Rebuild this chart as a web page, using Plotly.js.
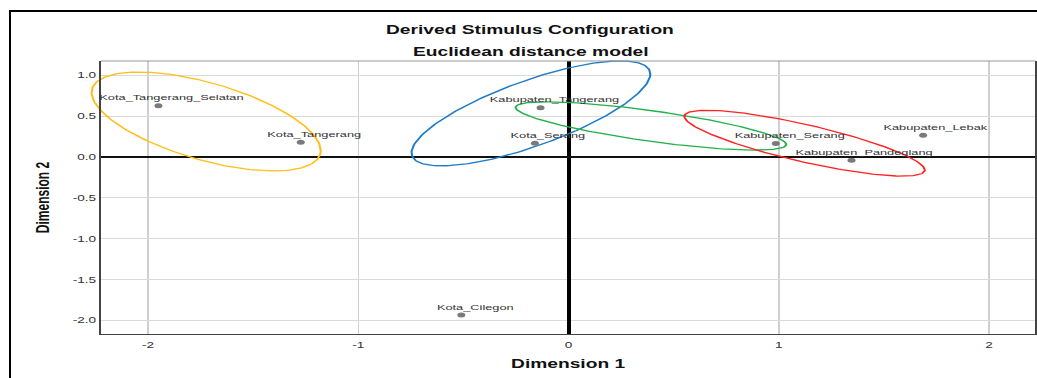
<!DOCTYPE html>
<html>
<head>
<meta charset="utf-8">
<script src="https://cdn.plot.ly/plotly-3.0.1.min.js"></script>
<style>
html,body{margin:0;padding:0;overflow:hidden;background:#fff;width:1037px;height:378px}
#wrap{position:absolute;left:0;top:0;width:648px;height:378px;transform:scaleX(1.6003);transform-origin:0 0}
#frame{position:absolute;left:9px;top:10px;width:1100px;height:420px;border-left:2px solid #000;border-top:2px solid #000;pointer-events:none;z-index:5}
</style>
</head>
<body>
<div id="wrap"><div id="chart" style="width:648px;height:378px"></div></div>
<div id="frame"></div>
<script>
// Stimulus coordinates (Dimension 1, Dimension 2)
const categories = ['Kota_Tangerang_Selatan','Kota_Tangerang','Kabupaten_Tangerang','Kota_Serang','Kabupaten_Serang','Kabupaten_Pandeglang','Kabupaten_Lebak','Kota_Cilegon'];
const dim1 = [-1.951, -1.274, -0.133, -0.160, 0.986, 1.346, 1.687, -0.510];
const dim2 = [0.628, 0.181, 0.604, 0.169, 0.164, -0.039, 0.267, -1.934];

// Cluster ellipses: centre, half-extent in x and y, correlation (tilt)
const ellipseColors = ['#FFBF1A', '#1F7BC8', '#22B04B', '#FF2222'];
const ellipseCx = [-1.724, -0.179, 0.392, 1.123];
const ellipseCy = [0.435, 0.534, 0.380, 0.169];
const ellipseSx = [0.545, 0.568, 0.644, 0.572];
const ellipseSy = [0.605, 0.642, 0.296, 0.403];
const ellipseRho = [-0.588, 0.749, -0.768, -0.814];

// Tick labels
const xTickVals = [-2, -1, 0, 1, 2];
const xTickText = ['-2', '-1', '0', '1', '2'];
const yTickVals = [1, 0.5, 0, -0.5, -1, -1.5, -2];
const yTickText = ['1.0', '0.5', '0.0', '-0.5', '-1.0', '-1.5', '-2.0'];

const traces = [];
for (let k = 0; k < ellipseCx.length; k++) {
  const xs = [], ys = [];
  const q = Math.sqrt(1 - ellipseRho[k] * ellipseRho[k]);
  for (let i = 0; i <= 240; i++) {
    const t = 2 * Math.PI * i / 240;
    xs.push(ellipseCx[k] + ellipseSx[k] * Math.cos(t));
    ys.push(ellipseCy[k] + ellipseSy[k] * (ellipseRho[k] * Math.cos(t) + q * Math.sin(t)));
  }
  traces.push({type:'scatter', mode:'lines', x:xs, y:ys, cliponaxis:false,
    line:{color:ellipseColors[k], width:1.3}, hoverinfo:'skip'});
}
traces.push({type:'scatter', mode:'markers', x:dim1, y:dim2, text:categories, cliponaxis:false,
  marker:{color:'#7a7a7a', size:5, line:{width:0}}, hoverinfo:'text'});

const annotations = categories.map((c, i) => ({
  x: dim1[i], y: dim2[i], xref:'x', yref:'y', text:c, showarrow:false,
  xanchor:'center', yanchor:'middle', xshift:8.4, yshift:8,
  font:{family:'Liberation Sans, Arial, sans-serif', size:8, color:'#333'}
}));
annotations.push({
  x:0.4594, y:1.033, xref:'paper', yref:'paper', text:'Euclidean distance model', showarrow:false,
  xanchor:'center', yanchor:'middle',
  font:{family:'Liberation Sans, Arial, sans-serif', size:12, color:'#111', weight:'bold'}
});

const layout = {
  width:648, height:378,
  margin:{l:63, r:1, t:61, b:44},
  paper_bgcolor:'#fff', plot_bgcolor:'#fff',
  showlegend:false,
  font:{family:'Liberation Sans, Arial, sans-serif', color:'#333'},
  title:{text:'Derived Stimulus Configuration', xref:'container', x:0.511, xanchor:'center',
    yref:'container', y:0.9206, yanchor:'middle',
    font:{family:'Liberation Sans, Arial, sans-serif', size:12, color:'#111', weight:'bold'}},
  xaxis:{range:[-2.225, 2.221], tickmode:'array', tickvals:xTickVals, ticktext:xTickText,
    showgrid:true, gridcolor:'#cfcfcf', gridwidth:1,
    zeroline:true, zerolinecolor:'#000', zerolinewidth:2.5,
    showline:true, linecolor:'#444', linewidth:1.2, mirror:false,
    ticks:'', ticklabelstandoff:3, tickfont:{size:8.5, color:'#333'}, automargin:false, fixedrange:true,
    title:{text:'Dimension 1', standoff:10, font:{family:'Liberation Sans, Arial, sans-serif', size:12, color:'#111', weight:'bold'}}},
  yaxis:{range:[-2.166, 1.175], tickmode:'array', tickvals:yTickVals, ticktext:yTickText,
    showgrid:true, gridcolor:'#dadada', gridwidth:1,
    zeroline:true, zerolinecolor:'#111', zerolinewidth:2.7,
    showline:true, linecolor:'#444', linewidth:1.2, mirror:true,
    ticks:'', tickfont:{size:8.5, color:'#333'}, automargin:false, fixedrange:true,
    title:{text:'Dimension 2', standoff:11, font:{family:'Liberation Sans, Arial, sans-serif', size:12, color:'#111', weight:'bold'}}},
  shapes:[{type:'line', xref:'paper', yref:'paper', x0:0, x1:1, y0:1, y1:1, line:{color:'#9a9a9a', width:1}}],
  annotations:annotations
};

Plotly.newPlot('chart', traces, layout, {displayModeBar:false, staticPlot:true}).then(function(gd){
  // let the cluster ellipses run past the frame, as in the source figure
  gd.querySelectorAll('.cartesianlayer .scatterlayer [clip-path], .cartesianlayer .scatterlayer[clip-path], .cartesianlayer .plot[clip-path]').forEach(function(el){ el.removeAttribute('clip-path'); });
});
</script>
</body>
</html>
